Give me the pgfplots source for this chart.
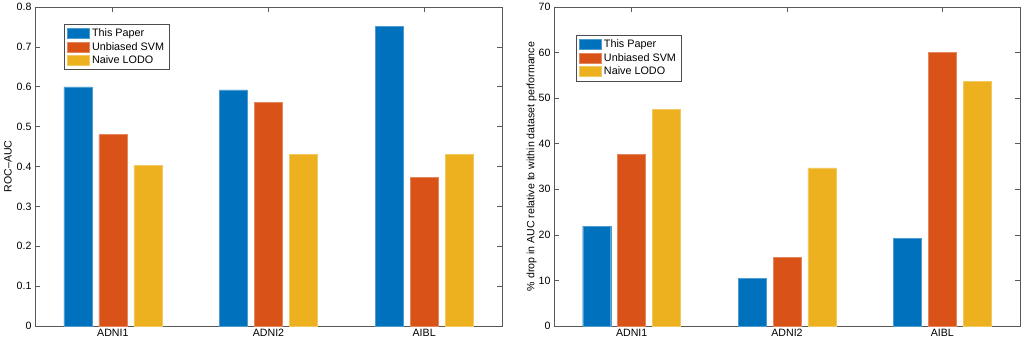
\documentclass[border=0pt]{standalone}
\usepackage{fontspec}
\setmainfont{Liberation Sans}
\usepackage{pgfplots}
\pgfplotsset{compat=1.18}
\definecolor{mblue}{HTML}{0072BD}
\definecolor{morange}{HTML}{D95319}
\definecolor{myellow}{HTML}{EDB120}

\pgfplotsset{
  matlabbars/.style={
    scale only axis,
    width=467pt, height=319pt,
    ybar,
    bar width=0.18,
    xmin=0.5, xmax=3.5,
    xtick={1,2,3},
    xticklabels={ADNI1,ADNI2,AIBL},
    tick align=inside,
    xtick pos=both, ytick pos=both,
    major tick length=5pt,
    axis line style={black!65, line width=0.7pt},
    every tick/.style={black!65, line width=0.7pt},
    tick label style={font=\fontsize{10.6}{12}\selectfont},
    /pgf/number format/assume math mode=true,
    label style={font=\fontsize{10.6}{13}\selectfont},
    legend cell align=left,
    legend style={anchor=north west, draw=black!70, line width=0.7pt,
      font=\fontsize{10.8}{13}\selectfont,
      inner xsep=3pt, inner ysep=2.5pt, row sep=0pt,
      nodes={inner ysep=2.1pt},
      /tikz/every even column/.append style={column sep=1pt}},
    legend image code/.code={\fill[##1] (0pt,-5pt) rectangle (22pt,5pt);},
  },
}

\begin{document}
\begin{tikzpicture}
\useasboundingbox (0,0) rectangle (1026pt,341pt);

\begin{axis}[matlabbars,
  at={(35pt,15pt)}, anchor=south west,
  ymin=0, ymax=0.8, ytick={0,0.1,...,0.8},
  yticklabel style={/pgf/number format/fixed},
  ylabel={ROC--AUC},
  ylabel style={at={(axis description cs:-0.058,0.5)}, anchor=center},
  legend style={at={(axis description cs:0.062,0.947)}},
]
\addplot[fill=mblue, draw=mblue!70!white, bar shift=-0.225] coordinates {(1,0.600) (2,0.592) (3,0.752)};
\addplot[fill=morange, draw=morange!70!white, bar shift=0] coordinates {(1,0.480) (2,0.561) (3,0.372)};
\addplot[fill=myellow, draw=myellow!70!white, bar shift=0.225] coordinates {(1,0.403) (2,0.430) (3,0.430)};
\legend{This Paper, Unbiased SVM, Naive LODO}
\end{axis}

\begin{axis}[matlabbars,
  at={(554pt,15pt)}, anchor=south west, width=466pt,
  ymin=0, ymax=70, ytick={0,10,...,70},
  ylabel={\% drop in AUC relative to within dataset performance},
  ylabel style={at={(axis description cs:-0.048,0.5)}, anchor=center},
  legend style={at={(axis description cs:0.047,0.912)}},
]
\addplot[fill=mblue, draw=mblue!70!white, bar shift=-0.225] coordinates {(1,21.9) (2,10.5) (3,19.2)};
\addplot[fill=morange, draw=morange!70!white, bar shift=0] coordinates {(1,37.6) (2,15.1) (3,60.1)};
\addplot[fill=myellow, draw=myellow!70!white, bar shift=0.225] coordinates {(1,47.6) (2,34.7) (3,53.7)};
\legend{This Paper, Unbiased SVM, Naive LODO}
\end{axis}
\end{tikzpicture}
\end{document}
